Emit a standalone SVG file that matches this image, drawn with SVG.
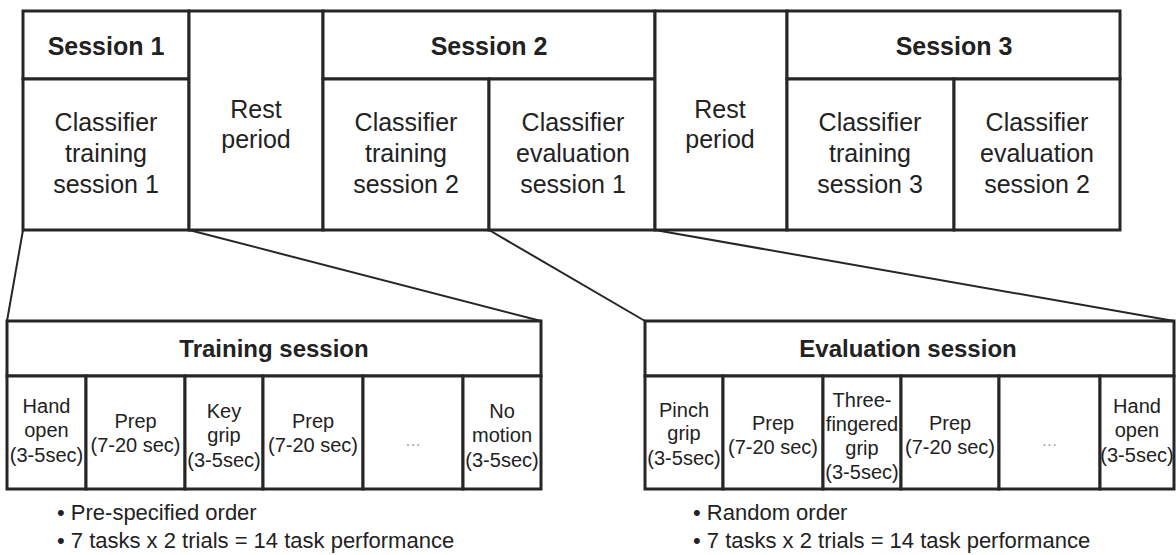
<svg xmlns="http://www.w3.org/2000/svg" width="1176" height="555" viewBox="0 0 1176 555">
<style>
.box{fill:#fff;stroke:#262626;stroke-width:3}
.ln{stroke:#262626;stroke-width:2;fill:none}
text{font-family:"Liberation Sans",Arial,sans-serif;fill:#222;text-anchor:middle}
.hd{font-size:25px;font-weight:bold}
.sh{font-size:24px;font-weight:bold}
.big{font-size:25px}
.cell{font-size:20px}
.dots{font-size:16px;fill:#999}
.bul{font-size:22px;text-anchor:start}
</style>
<rect width="1176" height="555" fill="#fff"/>
<g id="connectors">
<line class="ln" x1="23" y1="230" x2="7" y2="321"/>
<line class="ln" x1="189" y1="230" x2="541" y2="321"/>
<line class="ln" x1="489" y1="230" x2="645" y2="321"/>
<line class="ln" x1="655" y1="230" x2="1174" y2="321"/>
</g>
<g id="session1">
<rect class="box" x="23" y="11" width="166" height="68"/>
<rect class="box" x="23" y="79" width="166" height="151"/>
<text class="hd" x="106" y="55">Session 1</text>
<text class="big" x="106" y="131">Classifier</text>
<text class="big" x="106" y="162">training</text>
<text class="big" x="106" y="193">session 1</text>
</g>
<g id="rest1">
<rect class="box" x="189" y="11" width="134" height="219"/>
<text class="big" x="256" y="118">Rest</text>
<text class="big" x="256" y="148">period</text>
</g>
<g id="session2">
<rect class="box" x="323" y="11" width="332" height="68"/>
<rect class="box" x="323" y="79" width="166" height="151"/>
<rect class="box" x="489" y="79" width="166" height="151"/>
<text class="hd" x="489" y="55">Session 2</text>
<text class="big" x="406" y="131">Classifier</text>
<text class="big" x="406" y="162">training</text>
<text class="big" x="406" y="193">session 2</text>
<text class="big" x="573" y="131">Classifier</text>
<text class="big" x="573" y="162">evaluation</text>
<text class="big" x="573" y="193">session 1</text>
</g>
<g id="rest2">
<rect class="box" x="655" y="11" width="132" height="219"/>
<text class="big" x="720" y="118">Rest</text>
<text class="big" x="720" y="148">period</text>
</g>
<g id="session3">
<rect class="box" x="787" y="11" width="333" height="68"/>
<rect class="box" x="787" y="79" width="167" height="151"/>
<rect class="box" x="954" y="79" width="166" height="151"/>
<text class="hd" x="954" y="55">Session 3</text>
<text class="big" x="870" y="131">Classifier</text>
<text class="big" x="870" y="162">training</text>
<text class="big" x="870" y="193">session 3</text>
<text class="big" x="1037" y="131">Classifier</text>
<text class="big" x="1037" y="162">evaluation</text>
<text class="big" x="1037" y="193">session 2</text>
</g>
<g id="training-session">
<rect class="box" x="7" y="321" width="534" height="55"/>
<text class="sh" x="274" y="357">Training session</text>
<rect class="box" x="7" y="376" width="79" height="113"/>
<rect class="box" x="86" y="376" width="99" height="113"/>
<rect class="box" x="185" y="376" width="78" height="113"/>
<rect class="box" x="263" y="376" width="100" height="113"/>
<rect class="box" x="363" y="376" width="100" height="113"/>
<rect class="box" x="463" y="376" width="78" height="113"/>
<text class="cell" x="46.5" y="413">Hand</text>
<text class="cell" x="46.5" y="437">open</text>
<text class="cell" x="46.5" y="462">(3-5sec)</text>
<text class="cell" x="135.5" y="428">Prep</text>
<text class="cell" x="135.5" y="452">(7-20 sec)</text>
<text class="cell" x="224" y="418">Key</text>
<text class="cell" x="224" y="442">grip</text>
<text class="cell" x="224" y="467">(3-5sec)</text>
<text class="cell" x="313" y="428">Prep</text>
<text class="cell" x="313" y="452">(7-20 sec)</text>
<text class="dots" x="413" y="446">…</text>
<text class="cell" x="502" y="418">No</text>
<text class="cell" x="502" y="442">motion</text>
<text class="cell" x="502" y="467">(3-5sec)</text>
</g>
<g id="evaluation-session">
<rect class="box" x="645" y="321" width="529" height="55"/>
<text class="sh" x="908" y="357">Evaluation session</text>
<rect class="box" x="645" y="376" width="78" height="113"/>
<rect class="box" x="723" y="376" width="100" height="113"/>
<rect class="box" x="823" y="376" width="78" height="113"/>
<rect class="box" x="901" y="376" width="98" height="113"/>
<rect class="box" x="999" y="376" width="101" height="113"/>
<rect class="box" x="1100" y="376" width="74" height="113"/>
<text class="cell" x="684" y="417">Pinch</text>
<text class="cell" x="684" y="440">grip</text>
<text class="cell" x="684" y="465">(3-5sec)</text>
<text class="cell" x="773" y="430">Prep</text>
<text class="cell" x="773" y="454">(7-20 sec)</text>
<text class="cell" x="862" y="407">Three-</text>
<text class="cell" x="862" y="431">fingered</text>
<text class="cell" x="862" y="455">grip</text>
<text class="cell" x="862" y="479">(3-5sec)</text>
<text class="cell" x="950" y="430">Prep</text>
<text class="cell" x="950" y="454">(7-20 sec)</text>
<text class="dots" x="1049.5" y="446">…</text>
<text class="cell" x="1137" y="413">Hand</text>
<text class="cell" x="1137" y="437">open</text>
<text class="cell" x="1137" y="462">(3-5sec)</text>
</g>
<g id="training-notes">
<text class="bul" x="57" y="520">• Pre-specified order</text>
<text class="bul" x="57" y="548">• 7 tasks x 2 trials = 14 task performance</text>
</g>
<g id="evaluation-notes">
<text class="bul" x="693" y="520">• Random order</text>
<text class="bul" x="693" y="548">• 7 tasks x 2 trials = 14 task performance</text>
</g>
</svg>
